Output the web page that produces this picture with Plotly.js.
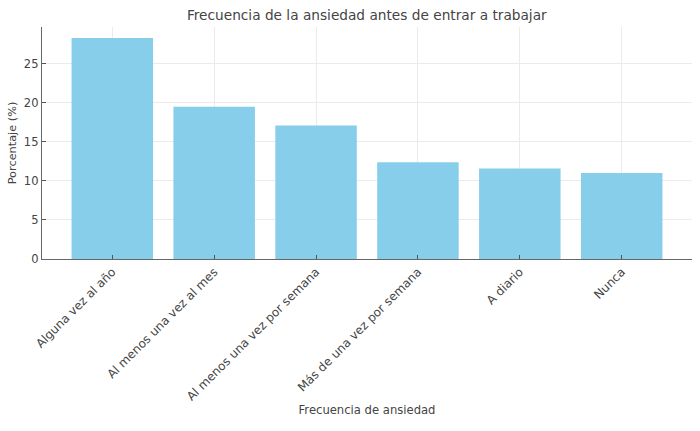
<!DOCTYPE html>
<html>
<head>
<meta charset="utf-8">
<script src="https://cdn.plot.ly/plotly-3.0.1.min.js"></script>
<style>html,body{margin:0;padding:0;background:#fff}#chart{width:700px;height:431px}</style>
</head>
<body>
<div id="chart"></div>
<script>
const categories = ["Alguna vez al año", "Al menos una vez al mes", "Al menos una vez por semana", "Más de una vez por semana", "A diario", "Nunca"];
const values = [28.3, 19.5, 17.1, 12.4, 11.6, 11.0];
const yTicks = [0, 5, 10, 15, 20, 25];

const font = "DejaVu Sans, sans-serif";
const trace = {
  type: "bar",
  x: categories.map((_, i) => i),
  y: values,
  width: 0.8,
  marker: {color: "#87CEEB"},
  hoverinfo: "x+y"
};
const layout = {
  width: 700, height: 431,
  margin: {l: 42, r: 8, t: 27, b: 172},
  paper_bgcolor: "#fff", plot_bgcolor: "#fff",
  font: {family: font, color: "#444", size: 11},
  showlegend: false,
  title: {text: "Frecuencia de la ansiedad antes de entrar a trabajar", font: {family: font, size: 13.7, color: "#444"}, x: 0.524, xanchor: "center", y: 0.965, yanchor: "middle"},
  xaxis: {
    range: [-0.69, 5.69],
    tickmode: "array", tickvals: categories.map((_, i) => i), ticktext: categories,
    tickangle: -45,
    showgrid: true, gridcolor: "#ebebeb", gridwidth: 1,
    showline: true, linecolor: "#666", linewidth: 1.2,
    ticks: "inside", ticklen: 4, tickcolor: "#555",
    zeroline: false,
    tickfont: {family: font, size: 12, color: "#444"},
    title: {text: "Frecuencia de ansiedad", font: {family: font, size: 11.6, color: "#444"}, standoff: 1}
  },
  yaxis: {
    range: [0, 29.7],
    tickmode: "array", tickvals: yTicks,
    showgrid: true, gridcolor: "#ebebeb", gridwidth: 1,
    showline: true, linecolor: "#666", linewidth: 1.2,
    ticks: "inside", ticklen: 4, tickcolor: "#555",
    zeroline: false,
    tickfont: {family: font, size: 11.5, color: "#444"},
    title: {text: "Porcentaje (%)", font: {family: font, size: 11.3, color: "#444"}, standoff: 5}
  }
};
Plotly.newPlot("chart", [trace], layout, {displayModeBar: false, staticPlot: true});
</script>
</body>
</html>
